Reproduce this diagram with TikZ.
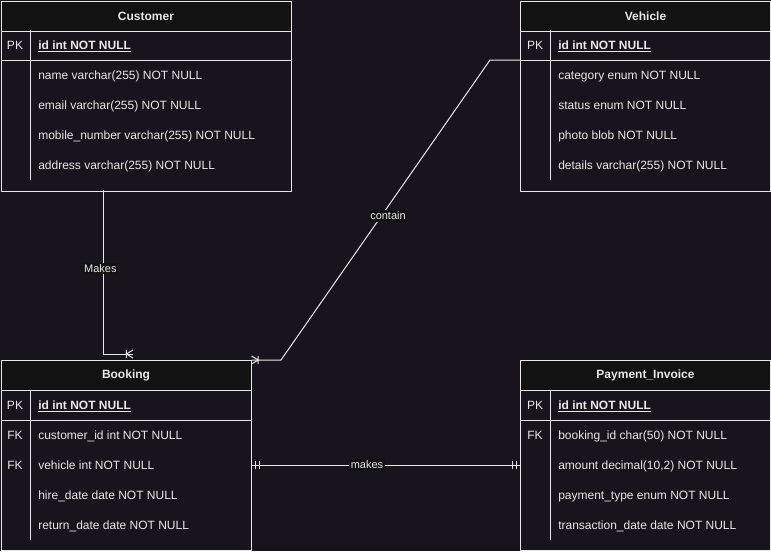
\documentclass[tikz,border=0pt]{standalone}
\usepackage{fontspec}
\setmainfont{Liberation Sans}
\usetikzlibrary{decorations.markings}
\definecolor{canvas}{HTML}{18141D}
\definecolor{headfill}{HTML}{121212}
\definecolor{ink}{HTML}{E8E8E8}

\begin{document}
\begin{tikzpicture}[x=0.75pt, y=-0.75pt,
    line/.style={draw=ink, line width=0.75pt},
    table/.style={line, fill=canvas, anchor=north west, inner sep=0pt,
        minimum height=142.5pt},
    head/.style={line, fill=headfill, anchor=north west, inner sep=0pt,
        minimum height=22.5pt, text=ink, font=\fontsize{9}{11}\selectfont\bfseries},
    field/.style={anchor=west, inner sep=0pt, text=ink, text height=8pt,
        text depth=1.6pt, font=\fontsize{9}{11}\selectfont},
    pk/.style={field, font=\fontsize{9}{11}\selectfont\bfseries},
    key/.style={inner sep=0pt, text=ink, text height=8pt, text depth=1.6pt,
        font=\fontsize{9}{11}\selectfont},
    lab/.style={fill=headfill, inner sep=1.2pt, text=ink,
        font=\fontsize{8.25}{10}\selectfont},
    mandone/.style={postaction={decorate, decoration={markings,
        mark=at position 3pt with {\draw[line] (0,-3pt) -- (0,3pt);},
        mark=at position 6pt with {\draw[line] (0,-3pt) -- (0,3pt);},
        mark=at position -3pt with {\draw[line] (0,-3pt) -- (0,3pt);},
        mark=at position -6pt with {\draw[line] (0,-3pt) -- (0,3pt);}}}},
    onemany/.style={postaction={decorate, decoration={markings,
        mark=at position -0.01pt with {\draw[line] (0,3pt) -- (-5pt,0) -- (0,-3pt)
            (-5pt,3pt) -- (-5pt,-3pt);}}}}
    ]
    \path[use as bounding box, fill=canvas] (0,0) rectangle (771,551);

    % Customer
    \node[table, minimum width=217.5pt] (customer) at (0.5,0.5) {};
    \node[head, minimum width=217.5pt] (customer-h) at (0.5,0.5) {Customer};
    \draw[line] (0.5,60) -- (290.5,60) (30,30) -- (30,180);
    \node[key] at (15,45) {PK};
    \node[pk] (customer-0) at (38,45) {\underline{id int NOT NULL}};
    \foreach \f [count=\i] in {name varchar(255) NOT NULL, email varchar(255) NOT NULL,
        mobile\_number varchar(255) NOT NULL, address varchar(255) NOT NULL}
        \node[field] (customer-\i) at (38,45+30*\i) {\f};

    % Vehicle
    \node[table, minimum width=187.5pt] (vehicle) at (520,0.5) {};
    \node[head, minimum width=187.5pt] (vehicle-h) at (520,0.5) {Vehicle};
    \draw[line] (520,60) -- (770,60) (550,30) -- (550,180);
    \node[key] at (535,45) {PK};
    \node[pk] (vehicle-0) at (558,45) {\underline{id int NOT NULL}};
    \foreach \f [count=\i] in {category enum NOT NULL, status enum NOT NULL,
        photo blob NOT NULL, details varchar(255) NOT NULL}
        \node[field] (vehicle-\i) at (558,45+30*\i) {\f};

    % Booking
    \node[table, minimum width=187.5pt] (booking) at (0.5,360) {};
    \node[head, minimum width=187.5pt] (booking-h) at (0.5,360) {Booking};
    \draw[line] (0.5,420) -- (250.5,420) (30,390) -- (30,540);
    \node[key] at (15,405) {PK};
    \node[pk] (booking-0) at (38,405) {\underline{id int NOT NULL}};
    \foreach \k/\f [count=\i] in {FK/customer\_id int NOT NULL, FK/vehicle int NOT NULL,
        /hire\_date date NOT NULL, /return\_date date NOT NULL}
    {
        \node[key] at (15,405+30*\i) {\k};
        \node[field] (booking-\i) at (38,405+30*\i) {\f};
    }

    % Payment_Invoice
    \node[table, minimum width=187.5pt] (payment) at (520,360) {};
    \node[head, minimum width=187.5pt] (payment-h) at (520,360) {Payment\_Invoice};
    \draw[line] (520,420) -- (770,420) (550,390) -- (550,540);
    \node[key] at (535,405) {PK};
    \node[pk] (payment-0) at (558,405) {\underline{id int NOT NULL}};
    \foreach \k/\f [count=\i] in {FK/booking\_id char(50) NOT NULL,
        /{amount decimal(10,2) NOT NULL}, /payment\_type enum NOT NULL,
        /transaction\_date date NOT NULL}
    {
        \node[key] at (535,405+30*\i) {\k};
        \node[field] (payment-\i) at (558,405+30*\i) {\f};
    }

    % relations
    \coordinate (makes-out) at (103,190);
    \coordinate (makes-in) at (133,354);
    \draw[line, onemany] (makes-out) |- node[lab, pos=0.24, xshift=-2pt] {Makes} (makes-in);

    \coordinate (vehicle-pk) at (520,60);
    \draw[line, onemany] (vehicle-pk) -- (490,60)
        -- node[lab, pos=0.52, xshift=5pt] {contain} (281,360) -- (booking.north east);

    \draw[line, mandone] (booking-2 -| booking.east)
        -- node[lab, pos=0.43] {makes} (payment-2 -| payment.west);
\end{tikzpicture}
\end{document}
